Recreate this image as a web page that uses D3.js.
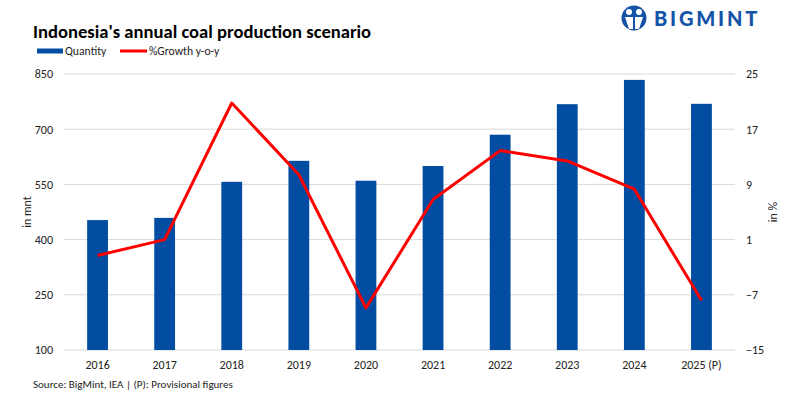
<!DOCTYPE html>
<html><head><meta charset="utf-8">
<script src="https://cdn.jsdelivr.net/npm/d3@7"></script>
<style>body{margin:0;background:#fff}svg{display:block}</style>
</head><body>
<svg id="c" width="800" height="400"></svg>
<script>
const categories = ["2016","2017","2018","2019","2020","2021","2022","2023","2024","2025 (P)"];
const quantity = [453, 459, 557, 614, 560, 600, 685, 768, 834, 769];
const growth = [-1.3, 1.0, 20.8, 10.4, -8.9, 6.8, 13.9, 12.4, 8.3, -7.8];
const leftTicks = [100, 250, 400, 550, 700, 850];
const rightTicks = [-15, -7, 1, 9, 17, 25];

const svg = d3.select("#c");
const m = {l:64, r:735, t:74, b:350};
const x = d3.scaleBand().domain(categories).range([m.l, m.r]).paddingInner(0.69).paddingOuter(0.345);
const yL = d3.scaleLinear().domain([100, 850]).range([m.b, m.t]);
const yR = d3.scaleLinear().domain([-15, 25]).range([m.b, m.t]);
const font = "Carlito, Calibri, Lato, sans-serif";

// gridlines
svg.append("g").selectAll("line").data(leftTicks).join("line")
  .attr("x1", m.l).attr("x2", m.r).attr("y1", d=>yL(d)).attr("y2", d=>yL(d))
  .attr("stroke", "#d9d9d9").attr("stroke-width", 1);

// left axis
const ga = svg.append("g").attr("transform", `translate(${m.l},0)`)
  .call(d3.axisLeft(yL).tickValues(leftTicks).tickSize(0).tickPadding(11));
ga.select(".domain").remove();
ga.selectAll("text").attr("font-family", font).attr("font-size", 12).attr("fill", "#222");

const gr = svg.append("g").attr("transform", `translate(${m.r},0)`)
  .call(d3.axisRight(yR).tickValues(rightTicks).tickSize(0).tickPadding(11));
gr.select(".domain").remove();
gr.selectAll("text").attr("font-family", font).attr("font-size", 12).attr("fill", "#222");

const gx = svg.append("g").attr("transform", `translate(0,${m.b})`)
  .call(d3.axisBottom(x).tickSize(0).tickPadding(10));
gx.select(".domain").remove();
gx.selectAll("text").attr("font-family", font).attr("font-size", 12).attr("fill", "#222");

// bars
svg.append("g").selectAll("rect").data(quantity).join("rect")
  .attr("x", (d,i)=>x(categories[i])).attr("width", x.bandwidth())
  .attr("y", d=>yL(d)).attr("height", d=>yL(100)-yL(d))
  .attr("fill", "#024da1");

// line
const line = d3.line().x((d,i)=>x(categories[i]) + x.bandwidth()/2).y(d=>yR(d));
svg.append("path").datum(growth).attr("d", line)
  .attr("fill", "none").attr("stroke", "#ff0000").attr("stroke-width", 3).attr("stroke-linejoin","round");

// axis titles
svg.append("text").attr("transform", "translate(31,212) rotate(-90)").attr("text-anchor","middle")
  .attr("font-family", font).attr("font-size", 12).attr("fill","#222").text("in mnt");
svg.append("text").attr("transform", "translate(777,212) rotate(-90)").attr("text-anchor","middle")
  .attr("font-family", font).attr("font-size", 12).attr("fill","#222").text("in %");

// title
svg.append("text").attr("x", 33).attr("y", 38).attr("font-family", font).attr("font-weight", "bold")
  .attr("font-size", 18.6).attr("fill", "#000").text("Indonesia's annual coal production scenario");

// legend
svg.append("rect").attr("x", 37).attr("y", 48.5).attr("width", 26).attr("height", 5).attr("fill", "#024da1");
svg.append("text").attr("x", 65).attr("y", 55).attr("font-family", font).attr("font-size", 11.7).attr("fill","#222").text("Quantity");
svg.append("line").attr("x1", 120).attr("x2", 147).attr("y1", 51).attr("y2", 51).attr("stroke", "#ff0000").attr("stroke-width", 3);
svg.append("text").attr("x", 149).attr("y", 55).attr("font-family", font).attr("font-size", 11.7).attr("fill","#222").text("%Growth y-o-y");

// source
svg.append("text").attr("x", 33).attr("y", 388).attr("font-family", font).attr("font-size", 11).attr("fill","#222")
  .text("Source: BigMint, IEA | (P): Provisional figures");

// logo
const lg = svg.append("g");
lg.append("circle").attr("cx", 634).attr("cy", 18).attr("r", 12.5).attr("fill", "#1553a8");
lg.append("circle").attr("cx", 629).attr("cy", 12).attr("r", 3).attr("fill", "#fff");
lg.append("circle").attr("cx", 639).attr("cy", 12).attr("r", 3).attr("fill", "#fff");
lg.append("path").attr("d", "M625,17 L633,17 L633,29 L629,29 Z M635,17 L643,17 L639,29 L635,29 Z").attr("fill", "#fff");
lg.append("text").attr("x", 654).attr("y", 26).attr("font-family", "Lato, sans-serif").attr("font-weight", "900")
  .attr("font-size", 20).attr("letter-spacing", 2.8).attr("fill", "#1553a8").text("BIGMINT");
</script>
</body></html>
